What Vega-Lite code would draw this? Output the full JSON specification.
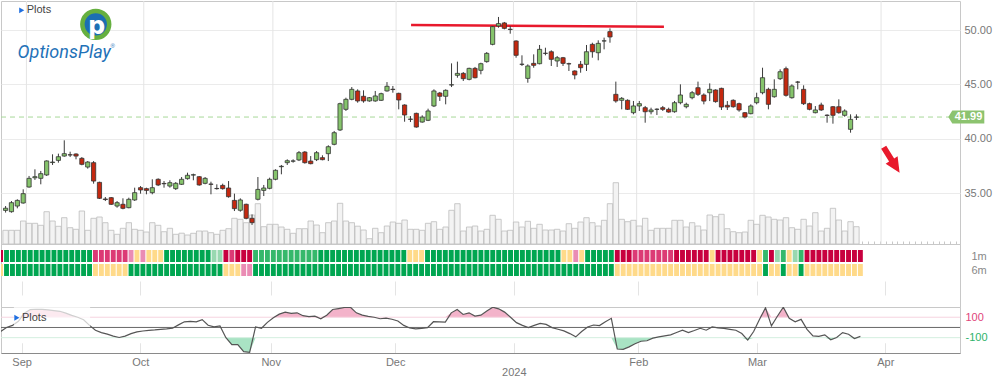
{
"$schema": "https://vega.github.io/schema/vega-lite/v6.json",
"padding": 0,
"background": "white",
"spacing": 0,
"bounds": "flush",
"config": {"view": {"stroke": "#c8c8c8"}, "font": "Liberation Sans", "axis": {"labelFont": "Liberation Sans"}},
"datasets": {
"months": [{"m": -0.45}, {"m": 19.55}, {"m": 41.55}, {"m": 62.55}, {"m": 82.55}, {"m": 103.55}, {"m": 123.55}, {"m": 145.2}],
"d": [
{"k":-4,"o":33.4,"h":33.8,"l":33.2,"c":33.6,"vol":1.37,"cci":-40,"m1":"sbr","m6":"n"},
{"k":-3,"o":33.28,"h":34.26,"l":33.19,"c":34.11,"vol":1.37,"cci":0,"m1":"sb","m6":"sb"},
{"k":-2,"o":33.8,"h":34.42,"l":33.59,"c":34.32,"vol":1.37,"cci":20,"m1":"sb","m6":"sb"},
{"k":-1,"o":34.08,"h":35.34,"l":34.02,"c":34.94,"vol":2.3,"cci":60,"m1":"sb","m6":"sb"},
{"k":0,"o":35.55,"h":36.57,"l":35.49,"c":36.35,"vol":2.07,"cci":140,"m1":"sb","m6":"sb"},
{"k":1,"o":36.4,"h":37.18,"l":36.2,"c":36.5,"vol":2.07,"cci":175,"m1":"sb","m6":"sb"},
{"k":2,"o":36.35,"h":37.03,"l":35.8,"c":36.78,"vol":1.87,"cci":178,"m1":"sb","m6":"sb"},
{"k":3,"o":36.66,"h":38,"l":36.57,"c":37.95,"vol":3.23,"cci":176,"m1":"sb","m6":"sb"},
{"k":4,"o":37.8,"h":38.56,"l":37.58,"c":37.85,"vol":2.3,"cci":172,"m1":"sb","m6":"sb"},
{"k":5,"o":38,"h":38.62,"l":37.79,"c":38.34,"vol":1.77,"cci":165,"m1":"sb","m6":"sb"},
{"k":6,"o":38.4,"h":39.85,"l":38.34,"c":38.62,"vol":2.63,"cci":158,"m1":"sb","m6":"sb"},
{"k":7,"o":38.52,"h":38.8,"l":38.31,"c":38.5,"vol":1.63,"cci":140,"m1":"sb","m6":"sb"},
{"k":8,"o":38.59,"h":38.65,"l":38.1,"c":38.4,"vol":1.47,"cci":118,"m1":"sb","m6":"sb"},
{"k":9,"o":38.19,"h":38.31,"l":37.55,"c":37.64,"vol":3.3,"cci":100,"m1":"sb","m6":"sb"},
{"k":10,"o":37.39,"h":37.94,"l":37.24,"c":37.85,"vol":1.37,"cci":75,"m1":"sb","m6":"sb"},
{"k":11,"o":37.79,"h":37.94,"l":35.86,"c":36.1,"vol":2.57,"cci":20,"m1":"sb","m6":"sb"},
{"k":12,"o":35.98,"h":36.04,"l":34.45,"c":34.51,"vol":2.7,"cci":-27,"m1":"br","m6":"n"},
{"k":13,"o":34.45,"h":34.63,"l":34.26,"c":34.4,"vol":2.13,"cci":-50,"m1":"br","m6":"n"},
{"k":14,"o":34.57,"h":34.63,"l":33.9,"c":33.96,"vol":1.37,"cci":-65,"m1":"br","m6":"n"},
{"k":15,"o":33.8,"h":34.26,"l":33.65,"c":34.11,"vol":0.97,"cci":-85,"m1":"br","m6":"n"},
{"k":16,"o":33.96,"h":34.51,"l":33.5,"c":33.59,"vol":1.57,"cci":-98,"m1":"br","m6":"n"},
{"k":17,"o":33.65,"h":34.57,"l":33.59,"c":34.42,"vol":2.13,"cci":-85,"m1":"br","m6":"n"},
{"k":18,"o":34.36,"h":35.49,"l":34.27,"c":35.03,"vol":1.47,"cci":-60,"m1":"lbr","m6":"sb"},
{"k":19,"o":35.49,"h":35.64,"l":34.94,"c":35.28,"vol":1.37,"cci":-43,"m1":"n","m6":"sb"},
{"k":20,"o":35.4,"h":35.49,"l":34.88,"c":35.24,"vol":1.2,"cci":-35,"m1":"lbr","m6":"sb"},
{"k":21,"o":35.03,"h":36.26,"l":34.88,"c":35.49,"vol":2.13,"cci":-28,"m1":"n","m6":"sb"},
{"k":22,"o":36.26,"h":36.35,"l":35.64,"c":35.74,"vol":1.87,"cci":-24,"m1":"n","m6":"sb"},
{"k":23,"o":35.88,"h":36.1,"l":35.49,"c":35.85,"vol":1.23,"cci":-18,"m1":"n","m6":"sb"},
{"k":24,"o":35.64,"h":36.17,"l":35.49,"c":35.95,"vol":1.57,"cci":-14,"m1":"sb","m6":"sb"},
{"k":25,"o":35.4,"h":36.01,"l":35.28,"c":35.89,"vol":0.97,"cci":-8,"m1":"sb","m6":"sb"},
{"k":26,"o":35.8,"h":36.47,"l":35.74,"c":36.26,"vol":1.08,"cci":25,"m1":"sb","m6":"sb"},
{"k":27,"o":36.32,"h":36.87,"l":36.23,"c":36.63,"vol":0.9,"cci":55,"m1":"sb","m6":"sb"},
{"k":28,"o":36.65,"h":36.78,"l":36.17,"c":36.68,"vol":1.07,"cci":60,"m1":"sb","m6":"sb"},
{"k":29,"o":36.5,"h":36.56,"l":35.67,"c":35.74,"vol":1.3,"cci":55,"m1":"sb","m6":"sb"},
{"k":30,"o":35.89,"h":36.47,"l":35.8,"c":36.35,"vol":1.3,"cci":76,"m1":"sb","m6":"sb"},
{"k":31,"o":35.82,"h":36.04,"l":34.88,"c":35.8,"vol":1.13,"cci":21,"m1":"sb","m6":"sb"},
{"k":32,"o":35.42,"h":35.8,"l":35.31,"c":35.4,"vol":0.97,"cci":5,"m1":"lb","m6":"sb"},
{"k":33,"o":35.7,"h":35.86,"l":35.31,"c":35.4,"vol":1.37,"cci":15,"m1":"lb","m6":"sb"},
{"k":34,"o":35.46,"h":36.1,"l":34.57,"c":34.66,"vol":1.53,"cci":-100,"m1":"sbr","m6":"n"},
{"k":35,"o":34.32,"h":34.94,"l":33.34,"c":33.56,"vol":2.57,"cci":-169,"m1":"br","m6":"n"},
{"k":36,"o":33.41,"h":34.51,"l":33.28,"c":34.36,"vol":2.47,"cci":-169,"m1":"sbr","m6":"n"},
{"k":37,"o":33.96,"h":34.02,"l":32.58,"c":32.67,"vol":2.13,"cci":-237,"m1":"sbr","m6":"lbr"},
{"k":38,"o":32.67,"h":33.03,"l":32.06,"c":32.27,"vol":2.9,"cci":-243,"m1":"sbr","m6":"lbr"},
{"k":39,"o":34.42,"h":36.47,"l":34.32,"c":35.33,"vol":4.03,"cci":5,"m1":"b","m6":"sb"},
{"k":40,"o":35.24,"h":35.74,"l":34.72,"c":35.46,"vol":1.73,"cci":-8,"m1":"b","m6":"sb"},
{"k":41,"o":35.43,"h":36.41,"l":35.34,"c":36.26,"vol":1.97,"cci":50,"m1":"b","m6":"sb"},
{"k":42,"o":36.26,"h":37.18,"l":36.17,"c":37.09,"vol":1.97,"cci":95,"m1":"b","m6":"sb"},
{"k":43,"o":37.42,"h":37.58,"l":36.72,"c":37.46,"vol":1.7,"cci":130,"m1":"b","m6":"sb"},
{"k":44,"o":37.79,"h":38.1,"l":37.58,"c":37.97,"vol":1.47,"cci":150,"m1":"b","m6":"sb"},
{"k":45,"o":37.93,"h":38.1,"l":37.79,"c":37.95,"vol":1.07,"cci":137,"m1":"b","m6":"sb"},
{"k":46,"o":38.04,"h":38.86,"l":37.94,"c":38.71,"vol":1.53,"cci":143,"m1":"b","m6":"sb"},
{"k":47,"o":38.77,"h":38.86,"l":37.7,"c":37.79,"vol":1.53,"cci":115,"m1":"b","m6":"sb"},
{"k":48,"o":37.94,"h":38.4,"l":37.64,"c":37.7,"vol":2.3,"cci":105,"m1":"b","m6":"sb"},
{"k":49,"o":38.07,"h":38.86,"l":37.94,"c":38.71,"vol":1.9,"cci":111,"m1":"b","m6":"sb"},
{"k":50,"o":38.25,"h":38.47,"l":38.01,"c":38.07,"vol":1.13,"cci":85,"m1":"sb","m6":"sb"},
{"k":51,"o":38.62,"h":39.39,"l":37.94,"c":39.26,"vol":2.13,"cci":120,"m1":"sb","m6":"sb"},
{"k":52,"o":39.48,"h":40.71,"l":39.39,"c":40.55,"vol":2.3,"cci":176,"m1":"sb","m6":"sb"},
{"k":53,"o":40.8,"h":43.31,"l":40.71,"c":43.22,"vol":4.07,"cci":185,"m1":"sb","m6":"sb"},
{"k":54,"o":42.7,"h":43.77,"l":42.55,"c":43.62,"vol":2.3,"cci":195,"m1":"sb","m6":"sb"},
{"k":55,"o":43.62,"h":44.75,"l":43.53,"c":44.54,"vol":2.13,"cci":198,"m1":"sb","m6":"sb"},
{"k":56,"o":44.39,"h":44.54,"l":43.31,"c":43.47,"vol":1.78,"cci":143,"m1":"sb","m6":"sb"},
{"k":57,"o":43.9,"h":44.45,"l":43.31,"c":43.47,"vol":1.4,"cci":120,"m1":"sb","m6":"sb"},
{"k":58,"o":43.47,"h":43.83,"l":43.4,"c":43.77,"vol":0.53,"cci":108,"m1":"sb","m6":"sb"},
{"k":59,"o":43.47,"h":44.39,"l":43.4,"c":43.93,"vol":1.57,"cci":100,"m1":"sb","m6":"sb"},
{"k":60,"o":43.53,"h":44.23,"l":43.47,"c":44.14,"vol":1.13,"cci":85,"m1":"sb","m6":"sb"},
{"k":61,"o":44.39,"h":45.21,"l":44.33,"c":44.82,"vol":1.8,"cci":92,"m1":"sb","m6":"sb"},
{"k":62,"o":44.55,"h":44.85,"l":44.23,"c":44.52,"vol":2.2,"cci":80,"m1":"sb","m6":"sb"},
{"k":63,"o":44.17,"h":44.23,"l":42.7,"c":43.56,"vol":2.07,"cci":63,"m1":"sb","m6":"sb"},
{"k":64,"o":43.1,"h":43.16,"l":41.56,"c":42.18,"vol":2.4,"cci":20,"m1":"sb","m6":"sb"},
{"k":65,"o":41.8,"h":42.08,"l":41.53,"c":41.78,"vol":1.47,"cci":-5,"m1":"n","m6":"sb"},
{"k":66,"o":42.33,"h":42.39,"l":41.01,"c":41.07,"vol":1.47,"cci":-14,"m1":"n","m6":"sb"},
{"k":67,"o":41.53,"h":42.15,"l":41.47,"c":41.99,"vol":1.37,"cci":-10,"m1":"n","m6":"sb"},
{"k":68,"o":41.69,"h":42.76,"l":41.62,"c":42.55,"vol":2.07,"cci":-2,"m1":"sb","m6":"sb"},
{"k":69,"o":43.01,"h":44.54,"l":42.91,"c":44.39,"vol":2.23,"cci":56,"m1":"sb","m6":"sb"},
{"k":70,"o":44.2,"h":44.3,"l":43.47,"c":43.9,"vol":1.47,"cci":55,"m1":"sb","m6":"sb"},
{"k":71,"o":43.9,"h":44.54,"l":43.16,"c":44.45,"vol":1.7,"cci":53,"m1":"sb","m6":"sb"},
{"k":72,"o":44.94,"h":46.93,"l":44.75,"c":44.96,"vol":3.37,"cci":143,"m1":"sb","m6":"sb"},
{"k":73,"o":45.83,"h":47.09,"l":45.61,"c":46.01,"vol":4.03,"cci":176,"m1":"sb","m6":"sb"},
{"k":74,"o":46.01,"h":46.13,"l":45.31,"c":45.52,"vol":1.3,"cci":127,"m1":"sb","m6":"sb"},
{"k":75,"o":45.46,"h":46.53,"l":45.37,"c":46.47,"vol":1.7,"cci":143,"m1":"sb","m6":"sb"},
{"k":76,"o":46.47,"h":46.6,"l":45.55,"c":45.61,"vol":1.8,"cci":111,"m1":"sb","m6":"sb"},
{"k":77,"o":46.29,"h":46.99,"l":45.92,"c":46.9,"vol":1.3,"cci":120,"m1":"sb","m6":"sb"},
{"k":78,"o":47.09,"h":47.97,"l":46.99,"c":47.85,"vol":1.47,"cci":160,"m1":"sb","m6":"sb"},
{"k":79,"o":48.68,"h":50.37,"l":48.59,"c":50.31,"vol":2.87,"cci":198,"m1":"sb","m6":"sb"},
{"k":80,"o":50.37,"h":51.2,"l":50.21,"c":50.59,"vol":2.47,"cci":182,"m1":"sb","m6":"sb"},
{"k":81,"o":50.65,"h":50.74,"l":50.06,"c":50.15,"vol":1.3,"cci":150,"m1":"sb","m6":"sb"},
{"k":82,"o":50.07,"h":50.37,"l":49.66,"c":50.05,"vol":1.37,"cci":100,"m1":"sb","m6":"sb"},
{"k":83,"o":48.99,"h":49.05,"l":47.45,"c":47.67,"vol":2.2,"cci":47,"m1":"sb","m6":"sb"},
{"k":84,"o":46.85,"h":47.67,"l":46.69,"c":46.84,"vol":1.7,"cci":20,"m1":"sb","m6":"sb"},
{"k":85,"o":45.55,"h":46.84,"l":45.15,"c":46.69,"vol":2.27,"cci":-2,"m1":"sb","m6":"sb"},
{"k":86,"o":46.93,"h":47.76,"l":46.53,"c":46.75,"vol":1.57,"cci":20,"m1":"sb","m6":"sb"},
{"k":87,"o":46.9,"h":48.62,"l":46.84,"c":48.22,"vol":1.97,"cci":40,"m1":"sb","m6":"sb"},
{"k":88,"o":47.86,"h":48.37,"l":47.67,"c":47.85,"vol":1.4,"cci":30,"m1":"sb","m6":"sb"},
{"k":89,"o":48,"h":48.13,"l":46.69,"c":47.3,"vol":1.4,"cci":-2,"m1":"sb","m6":"sb"},
{"k":90,"o":47.15,"h":47.61,"l":46.6,"c":47.45,"vol":1.47,"cci":-18,"m1":"sb","m6":"sb"},
{"k":91,"o":47.45,"h":47.52,"l":46.69,"c":46.93,"vol":1.3,"cci":-34,"m1":"n","m6":"sb"},
{"k":92,"o":46.9,"h":46.99,"l":46.23,"c":46.88,"vol":2.03,"cci":-60,"m1":"n","m6":"sb"},
{"k":93,"o":46.23,"h":46.29,"l":45.46,"c":45.86,"vol":1.57,"cci":-92,"m1":"lbr","m6":"sb"},
{"k":94,"o":46.84,"h":47.15,"l":46.07,"c":46.53,"vol":2.2,"cci":-40,"m1":"n","m6":"sb"},
{"k":95,"o":46.84,"h":48.62,"l":46.23,"c":48,"vol":2.63,"cci":5,"m1":"sb","m6":"sb"},
{"k":96,"o":48.68,"h":48.83,"l":47.45,"c":48,"vol":2.13,"cci":24,"m1":"sb","m6":"sb"},
{"k":97,"o":47.91,"h":49.05,"l":47.21,"c":48.77,"vol":1.8,"cci":18,"m1":"sb","m6":"sb"},
{"k":98,"o":48.99,"h":49.3,"l":48.22,"c":49,"vol":2.37,"cci":55,"m1":"sb","m6":"sb"},
{"k":99,"o":49.85,"h":50.15,"l":48.83,"c":49.36,"vol":4.03,"cci":89,"m1":"sb","m6":"sb"},
{"k":100,"o":44.08,"h":45.25,"l":43.31,"c":43.47,"vol":6.13,"cci":-211,"m1":"sbr","m6":"n"},
{"k":101,"o":43.53,"h":43.83,"l":42.7,"c":43.71,"vol":2.47,"cci":-214,"m1":"sbr","m6":"n"},
{"k":102,"o":43.53,"h":43.62,"l":42.64,"c":42.7,"vol":2.23,"cci":-190,"m1":"sbr","m6":"n"},
{"k":103,"o":42.39,"h":43.47,"l":42.24,"c":43.01,"vol":2.37,"cci":-160,"m1":"br","m6":"n"},
{"k":104,"o":43.01,"h":43.47,"l":42.55,"c":43.22,"vol":1.8,"cci":-135,"m1":"br","m6":"n"},
{"k":105,"o":42.85,"h":43.01,"l":41.47,"c":42.48,"vol":2.57,"cci":-130,"m1":"br","m6":"n"},
{"k":106,"o":42.48,"h":42.85,"l":42.24,"c":42.64,"vol":1.37,"cci":-105,"m1":"br","m6":"n"},
{"k":107,"o":42.7,"h":42.79,"l":42.18,"c":42.71,"vol":1.57,"cci":-92,"m1":"br","m6":"n"},
{"k":108,"o":42.85,"h":43.01,"l":42.55,"c":42.7,"vol":1.57,"cci":-82,"m1":"br","m6":"n"},
{"k":109,"o":42.7,"h":42.85,"l":42.39,"c":42.45,"vol":1.57,"cci":-72,"m1":"br","m6":"n"},
{"k":110,"o":42.48,"h":43.47,"l":42.39,"c":43.31,"vol":2.37,"cci":-50,"m1":"sbr","m6":"n"},
{"k":111,"o":43.31,"h":45,"l":43.16,"c":44.02,"vol":2.37,"cci":-27,"m1":"sbr","m6":"n"},
{"k":112,"o":42.94,"h":43.31,"l":42.79,"c":43.16,"vol":1.7,"cci":-50,"m1":"sbr","m6":"n"},
{"k":113,"o":43.77,"h":44.39,"l":43.62,"c":44.23,"vol":2.13,"cci":-30,"m1":"sbr","m6":"n"},
{"k":114,"o":44.69,"h":45.25,"l":43.93,"c":44.08,"vol":1.8,"cci":-8,"m1":"sbr","m6":"n"},
{"k":115,"o":44.02,"h":44.17,"l":43.16,"c":43.46,"vol":1.4,"cci":-27,"m1":"sbr","m6":"n"},
{"k":116,"o":44.23,"h":45.09,"l":43.46,"c":44.54,"vol":2.9,"cci":5,"m1":"n","m6":"n"},
{"k":117,"o":44.48,"h":44.54,"l":43.31,"c":43.41,"vol":2.73,"cci":-5,"m1":"sbr","m6":"n"},
{"k":118,"o":44.63,"h":44.69,"l":42.64,"c":42.91,"vol":2.97,"cci":-10,"m1":"sbr","m6":"n"},
{"k":119,"o":43.07,"h":43.46,"l":42.64,"c":42.91,"vol":1.53,"cci":-18,"m1":"sbr","m6":"n"},
{"k":120,"o":43.53,"h":43.62,"l":42.85,"c":42.94,"vol":1.23,"cci":-27,"m1":"sbr","m6":"n"},
{"k":121,"o":43.22,"h":43.31,"l":42.48,"c":42.64,"vol":1.13,"cci":-60,"m1":"sbr","m6":"n"},
{"k":122,"o":42.39,"h":42.45,"l":41.87,"c":41.99,"vol":1.2,"cci":-124,"m1":"sbr","m6":"n"},
{"k":123,"o":42.3,"h":43.16,"l":42.24,"c":43.01,"vol":2.37,"cci":-40,"m1":"sbr","m6":"n"},
{"k":124,"o":43.31,"h":44.23,"l":43.16,"c":43.77,"vol":1.97,"cci":80,"m1":"n","m6":"n"},
{"k":125,"o":44.23,"h":46.53,"l":44.08,"c":45.61,"vol":2.87,"cci":192,"m1":"b","m6":"sb"},
{"k":126,"o":44.54,"h":44.69,"l":42.7,"c":43.16,"vol":2.7,"cci":15,"m1":"sbr","m6":"n"},
{"k":127,"o":43.86,"h":45.46,"l":43.77,"c":44.54,"vol":2.47,"cci":110,"m1":"lb","m6":"n"},
{"k":128,"o":45.52,"h":46.38,"l":45.4,"c":46.16,"vol":2.4,"cci":198,"m1":"b","m6":"sb"},
{"k":129,"o":46.44,"h":46.63,"l":43.87,"c":43.99,"vol":2.63,"cci":89,"m1":"n","m6":"n"},
{"k":130,"o":43.77,"h":45,"l":43.68,"c":44.85,"vol":1.63,"cci":56,"m1":"lb","m6":"n"},
{"k":131,"o":45.21,"h":45.31,"l":44.54,"c":45.2,"vol":1.47,"cci":79,"m1":"b","m6":"sb"},
{"k":132,"o":44.54,"h":44.91,"l":43.1,"c":43.22,"vol":2.47,"cci":-18,"m1":"sbr","m6":"n"},
{"k":133,"o":43.22,"h":43.31,"l":42.61,"c":42.7,"vol":1.8,"cci":-82,"m1":"sbr","m6":"n"},
{"k":134,"o":42.39,"h":43,"l":42.33,"c":42.64,"vol":3.13,"cci":-88,"m1":"sbr","m6":"n"},
{"k":135,"o":43.1,"h":43.31,"l":42.55,"c":42.64,"vol":1.3,"cci":-72,"m1":"sbr","m6":"n"},
{"k":136,"o":42.16,"h":42.24,"l":41.47,"c":42.14,"vol":1.57,"cci":-121,"m1":"sbr","m6":"n"},
{"k":137,"o":42.94,"h":43,"l":41.38,"c":42.15,"vol":3.57,"cci":-98,"m1":"sbr","m6":"n"},
{"k":138,"o":42.94,"h":43.62,"l":42.3,"c":42.39,"vol":2.4,"cci":-50,"m1":"sbr","m6":"n"},
{"k":139,"o":42.15,"h":42.7,"l":42.02,"c":42.55,"vol":1.3,"cci":-66,"m1":"sbr","m6":"n"},
{"k":140,"o":40.86,"h":42.24,"l":40.55,"c":41.78,"vol":2.23,"cci":-108,"m1":"sbr","m6":"n"},
{"k":141,"o":41.97,"h":42.24,"l":41.72,"c":41.99,"vol":1.73,"cci":-88,"m1":"sbr","m6":"n"}
]
},
"vconcat": [
{
"width": 959, "height": 243,
"data": {"name": "d"},
"layer": [
 {"data": {"name": "months"}, "mark": {"type": "rule", "color": "#e4e4e4", "strokeWidth": 1},
  "encoding": {"x": {"field": "m", "type": "quantitative", "scale": {"domain": [-3.93, 157.8], "nice": false, "zero": false},
   "axis": {"orient": "bottom", "labels": false, "grid": false, "ticks": true, "tickSize": -3, "tickColor": "#c8c8c8", "tickCount": 160, "tickMinStep": 1, "domain": true, "domainColor": "#c0c0c0", "title": null}}}},
 {"mark": {"type": "bar", "size": 5.4, "fill": "#f3f3f3", "stroke": "#bcbcbc", "strokeWidth": 0.8, "clip": true},
  "encoding": {"x": {"field": "k", "type": "quantitative"}, "y": {"field": "vol", "type": "quantitative", "scale": {"domain": [0, 24.3], "nice": false, "zero": true}, "axis": null}}},
 {"layer": [
  {"data": {"values": [{}]}, "mark": {"type": "rule", "color": "#a8d898", "strokeDash": [5, 4], "strokeWidth": 1},
   "encoding": {"y": {"datum": 41.99, "type": "quantitative", "scale": {"domain": [30.307, 52.669], "nice": false, "zero": false},
    "axis": {"orient": "right", "values": [35, 40, 45, 50], "format": ".2f", "grid": true, "gridColor": "#ebebeb", "ticks": false, "domain": false, "labelColor": "#777", "labelFontSize": 11, "labelPadding": 4, "title": null}}}},
  {"data": {"values": [{"k": 65.1, "p": 50.46}, {"k": 108.2, "p": 50.3}]}, "mark": {"type": "line", "color": "#e8192c", "strokeWidth": 2.5},
   "encoding": {"x": {"field": "k", "type": "quantitative"}, "y": {"field": "p", "type": "quantitative"}}},
  {"mark": {"type": "rule", "color": "#3a3a3a", "strokeWidth": 1, "clip": true},
   "encoding": {"x": {"field": "k", "type": "quantitative"}, "y": {"field": "l", "type": "quantitative"}, "y2": {"field": "h"}}},
  {"mark": {"type": "bar", "size": 4.2, "stroke": "#333", "strokeWidth": 0.8, "clip": true},
   "encoding": {"x": {"field": "k", "type": "quantitative"}, "y": {"field": "o", "type": "quantitative"}, "y2": {"field": "c"},
    "fill": {"condition": [{"test": "datum.k == 141", "value": "#bbbbbb"}, {"test": "datum.c >= datum.o", "value": "#86c46c"}], "value": "#c4280f"}}},
  {"data": {"values": [{}]}, "mark": {"type": "point", "shape": "triangle-right", "filled": true, "color": "#1f6fe0", "size": 35, "opacity": 1},
   "encoding": {"x": {"datum": -1.25, "type": "quantitative"}, "y": {"datum": 51.81, "type": "quantitative"}}},
  {"data": {"values": [{}]}, "mark": {"type": "text", "text": "Plots", "align": "left", "baseline": "middle", "fontSize": 11, "color": "#444"},
   "encoding": {"x": {"datum": -0.4, "type": "quantitative"}, "y": {"datum": 51.81, "type": "quantitative"}}},
  {"data": {"values": [{}]}, "mark": {"type": "point", "shape": "circle", "filled": true, "fill": "#1b6fb3", "stroke": "#66b040", "strokeWidth": 4.5, "size": 720, "opacity": 1},
   "encoding": {"x": {"datum": 11.37, "type": "quantitative"}, "y": {"datum": 50.52, "type": "quantitative"}}},
  {"data": {"values": [{}]}, "mark": {"type": "text", "text": "p", "align": "center", "baseline": "middle", "font": "DejaVu Sans", "fontSize": 24, "fontWeight": "bold", "color": "white"},
   "encoding": {"x": {"datum": 11.5, "type": "quantitative"}, "y": {"datum": 50.25, "type": "quantitative"}}},
  {"data": {"values": [{}]}, "mark": {"type": "text", "text": "OptionsPlay", "align": "left", "baseline": "middle", "font": "Roboto", "fontStyle": "italic", "fontSize": 18, "color": "#1f72b8"},
   "encoding": {"x": {"datum": -1.96, "type": "quantitative"}, "y": {"datum": 47.88, "type": "quantitative"}}},
  {"data": {"values": [{}]}, "mark": {"type": "text", "text": "®", "align": "left", "baseline": "middle", "fontSize": 6, "color": "#1f72b8"},
   "encoding": {"x": {"datum": 13.9, "type": "quantitative"}, "y": {"datum": 48.55, "type": "quantitative"}}},
  {"data": {"values": [{}]}, "mark": {"type": "point", "shape": "M-1,0 L-0.78,-0.36 L1,-0.36 L1,0.36 L-0.78,0.36 Z", "filled": true, "fill": "#8cc36f", "strokeWidth": 0, "size": 1296, "opacity": 1},
   "encoding": {"x": {"datum": 159.73, "type": "quantitative"}, "y": {"datum": 41.99, "type": "quantitative"}}},
  {"data": {"values": [{}]}, "mark": {"type": "text", "text": "41.99", "align": "center", "baseline": "middle", "fontSize": 11, "fontWeight": "bold", "color": "white"},
   "encoding": {"x": {"datum": 160.1, "type": "quantitative"}, "y": {"datum": 41.99, "type": "quantitative"}}},
  {"data": {"values": [{}]}, "mark": {"type": "point", "shape": "M-0.2,-1 L0.2,-1 L0.2,0 L0.47,0 L0,1 L-0.47,0 L-0.2,0 Z", "filled": true, "fill": "#e8192c", "strokeWidth": 0, "size": 900, "angle": -32, "opacity": 1},
   "encoding": {"x": {"datum": 147.0, "type": "quantitative"}, "y": {"datum": 38.04, "type": "quantitative"}}}
 ]}
],
"resolve": {"scale": {"y": "independent"}}
},
{
"width": 959, "height": 63,
"data": {"name": "d"},
"transform": [{"fold": ["m1", "m6"], "as": ["row", "val"]}],
"mark": {"type": "tick", "orient": "vertical", "thickness": 4.9, "size": 12, "opacity": 1, "clip": true},
"encoding": {
 "x": {"field": "k", "type": "quantitative", "scale": {"domain": [-3.93, 157.8], "nice": false, "zero": false},
  "axis": {"values": [-0.45, 19.55, 41.55, 62.55, 82.55, 103.55, 123.55, 145.2], "grid": true, "gridColor": "#e4e4e4", "labels": false, "ticks": false, "domain": false, "title": null}},
 "y": {"field": "row", "type": "nominal", "scale": {"type": "point", "domain": ["m1", "m6"], "range": [12, 26], "padding": 0},
  "axis": {"orient": "right", "labelExpr": "datum.value == 'm1' ? '1m' : '6m'", "ticks": false, "domain": false, "grid": false, "labelColor": "#888", "labelFontSize": 11, "labelPadding": 11, "title": null}},
 "color": {"field": "val", "type": "nominal", "scale": {"domain": ["sb", "b", "lb", "n", "lbr", "br", "sbr"], "range": ["#00a651", "#35b86b", "#98d8b0", "#ffda8a", "#ea8cb4", "#dc3a75", "#c8003f"]}, "legend": null}
}
},
{
"width": 959, "height": 46,
"data": {"name": "d"},
"layer": [
 {"mark": {"type": "area", "color": "#f3b3ca", "clip": true, "opacity": 1},
  "encoding": {"x": {"field": "k", "type": "quantitative", "scale": {"domain": [-3.93, 157.8], "nice": false, "zero": false},
   "axis": {"values": [-0.45, 19.55, 41.55, 62.55, 82.55, 103.55, 123.55, 145.2], "grid": true, "gridColor": "#e4e4e4", "ticks": false, "domain": true, "domainColor": "#8a8a8a", "labelExpr": "datum.value < 5 ? 'Sep' : datum.value < 30 ? 'Oct' : datum.value < 50 ? 'Nov' : datum.value < 70 ? 'Dec' : datum.value < 90 ? ['', '2024'] : datum.value < 110 ? 'Feb' : datum.value < 130 ? 'Mar' : 'Apr'", "labelColor": "#777", "labelFontSize": 11, "labelPadding": 3, "labelLineHeight": 10, "labelFlush": false, "labelOverlap": false, "title": null}},
   "y": {"field": "cci", "type": "quantitative", "scale": {"domain": [100, 200], "range": [10.22, 0], "clamp": true, "nice": false, "zero": false}, "axis": null},
   "y2": {"datum": 100}}},
 {"mark": {"type": "area", "color": "#a9e3c4", "clip": true, "opacity": 1},
  "encoding": {"x": {"field": "k", "type": "quantitative"},
   "y": {"field": "cci", "type": "quantitative", "scale": {"domain": [-250, -100], "range": [46, 30.67], "clamp": true, "nice": false, "zero": false}, "axis": null},
   "y2": {"datum": -100}}},
 {"layer": [
  {"data": {"values": [{}]}, "mark": {"type": "rule", "color": "#f6d3df", "strokeWidth": 1},
   "encoding": {"y": {"datum": 100, "type": "quantitative", "scale": {"domain": [-250, 200], "nice": false, "zero": false},
    "axis": {"orient": "right", "values": [100, -100], "labelExpr": "datum.value > 0 ? '100' : '-100'", "labelColor": {"condition": {"test": "datum.value > 0", "value": "#e0457b"}, "value": "#2eb36a"}, "ticks": false, "domain": false, "grid": false, "labelPadding": 5, "labelFontSize": 11, "title": null}}}},
  {"data": {"values": [{}]}, "mark": {"type": "rule", "color": "#d3efdf", "strokeWidth": 1},
   "encoding": {"y": {"datum": -100, "type": "quantitative"}}},
  {"data": {"values": [{}]}, "mark": {"type": "rule", "color": "#666", "strokeWidth": 1},
   "encoding": {"y": {"datum": 0, "type": "quantitative"}}},
  {"mark": {"type": "line", "color": "#555", "strokeWidth": 1.2, "clip": true},
   "encoding": {"x": {"field": "k", "type": "quantitative"}, "y": {"field": "cci", "type": "quantitative"}}},
  {"data": {"values": [{}]}, "mark": {"type": "rect", "fill": "white", "opacity": 0.72},
   "encoding": {"x": {"datum": -1.75, "type": "quantitative"}, "x2": {"datum": 11.1}, "y": {"datum": 200, "type": "quantitative"}, "y2": {"datum": 5}}},
  {"data": {"values": [{}]}, "mark": {"type": "point", "shape": "triangle-right", "filled": true, "color": "#1f6fe0", "size": 35, "opacity": 1},
   "encoding": {"x": {"datum": -1.25, "type": "quantitative"}, "y": {"datum": 95, "type": "quantitative"}}},
  {"data": {"values": [{}]}, "mark": {"type": "text", "text": "Plots", "align": "left", "baseline": "middle", "fontSize": 11, "color": "#444"},
   "encoding": {"x": {"datum": -0.4, "type": "quantitative"}, "y": {"datum": 95, "type": "quantitative"}}}
 ]}
],
"resolve": {"scale": {"y": "independent"}}
}
]
}
